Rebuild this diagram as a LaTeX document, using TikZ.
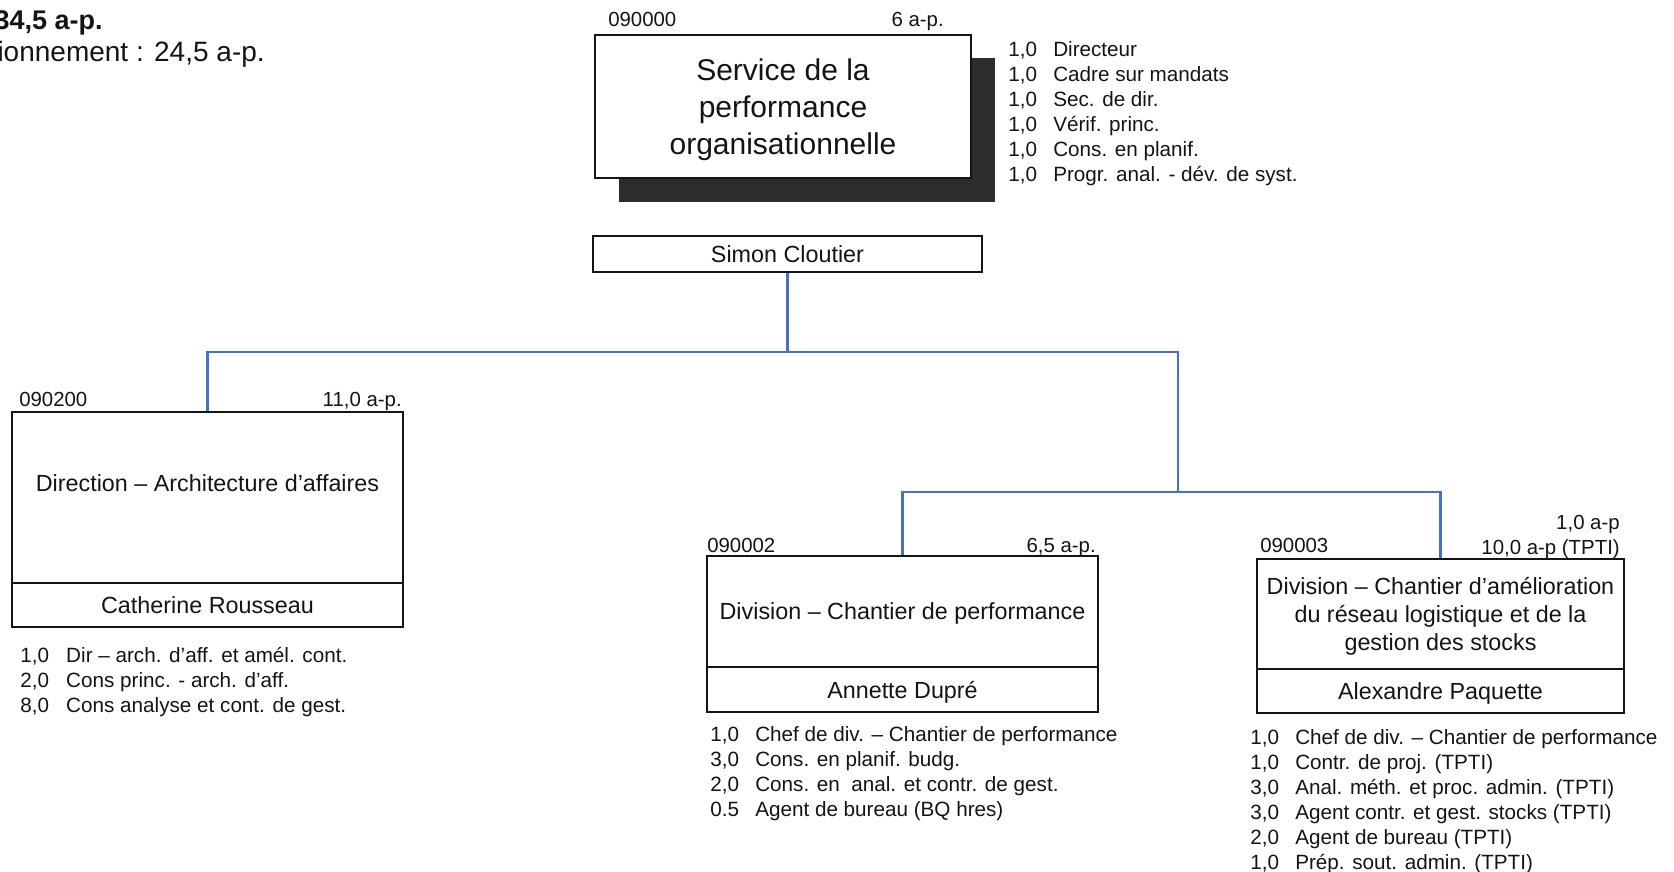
\documentclass[tikz,border=0pt]{standalone}
\usepackage{fontspec}
\setmainfont{Liberation Sans}
\definecolor{linkblue}{RGB}{70,114,196}
\definecolor{shade}{RGB}{45,45,45}
\definecolor{ink}{RGB}{20,20,20}
\begin{document}
\begin{tikzpicture}[x=0.75pt,y=-0.75pt,
  box/.style={draw=ink, line width=1.2pt, fill=white, inner sep=0pt, align=center, text=ink},
  boxfont/.style={font=\fontsize{17.5}{21.2}\selectfont, text depth=0pt},
  shadowbox/.style={fill=shade, draw=none, inner sep=0pt},
  smalltxt/.style={inner sep=0pt, text=ink, font=\fontsize{15.3}{18.75}\selectfont},
  boxtxt/.style={inner sep=0pt, text=ink, align=center, font=\fontsize{17.5}{21.2}\selectfont},
  listtxt/.style={inner sep=0pt, anchor=base west, text=ink, font=\fontsize{15.5}{18.75}\selectfont},
  conn/.style={draw=linkblue, line width=1.6pt},
]
\useasboundingbox (0,0) rectangle (1674,871);
\clip (0,0) rectangle (1674,871);

% top-left totals
\node[inner sep=0pt, anchor=base east, text=ink, font=\fontsize{20.25}{24}\selectfont\bfseries] (tot1) at (103,29) {34,5 a-p.};
\node[inner sep=0pt, anchor=base east, text=ink, font=\fontsize{21}{24}\selectfont] (tot2) at (265,61) {ionnement : 24,5 a-p.};

% main service
\node[shadowbox, minimum width=282pt, minimum height=108pt] (svcsh) at (807,130) {};
\node[box, minimum width=282pt, minimum height=107.25pt, text depth=0pt, font=\fontsize{22.5}{28}\selectfont] (svc) at (783,106.5) {Service de la\\performance\\organisationnelle};
\node[smalltxt, anchor=base west] (svcCode) at (608,26) {090000};
\node[smalltxt, anchor=base east] (svcCnt) at (944,26) {6 a-p.};
\node[listtxt] (svcList) at (1008,56) {\begin{tabular}[t]{@{}p{33.75pt}@{}l@{}}
1,0 & Directeur\\
1,0 & Cadre sur mandats\\
1,0 & Sec. de dir.\\
1,0 & Vérif. princ.\\
1,0 & Cons. en planif.\\
1,0 & Progr. anal. - dév. de syst.
\end{tabular}};

\node[box, boxfont, minimum width=291.75pt, minimum height=27pt] (simon) at (787.5,254) {Simon Cloutier};

% Direction 090200
\node[box, minimum width=293.25pt, minimum height=128.25pt] (dir) at (207.5,497.5) {};
\node[boxtxt] (dirT) at (207.5,483) {Direction – Architecture d’affaires};
\node[box, boxfont, minimum width=293.25pt, minimum height=33pt] (dirN) at (207.5,605) {Catherine Rousseau};
\node[smalltxt, anchor=base west] (dirCode) at (19,406) {090200};
\node[smalltxt, anchor=base east] (dirCnt) at (402,406) {11,0 a-p.};
\node[listtxt] (dirList) at (20,662) {\begin{tabular}[t]{@{}p{34.5pt}@{}l@{}}
1,0 & Dir – arch. d’aff. et amél. cont.\\
2,0 & Cons princ. - arch. d’aff.\\
8,0 & Cons analyse et cont. de gest.
\end{tabular}};

% Division 090002
\node[box, boxfont, minimum width=293.25pt, minimum height=83.25pt] (divA) at (902.5,611.5) {Division – Chantier de performance};
\node[box, boxfont, minimum width=293.25pt, minimum height=33.75pt] (divAN) at (902.5,689.5) {Annette Dupré};
\node[smalltxt, anchor=base west] (divACode) at (707,552) {090002};
\node[smalltxt, anchor=base east] (divACnt) at (1096,552) {6,5 a-p.};
\node[listtxt] (divAList) at (710,741) {\begin{tabular}[t]{@{}p{33.75pt}@{}l@{}}
1,0 & Chef de div. – Chantier de performance\\
3,0 & Cons. en planif. budg.\\
2,0 & Cons. en~ anal. et contr. de gest.\\
0.5 & Agent de bureau (BQ hres)
\end{tabular}};

% Division 090003
\node[box, boxfont, minimum width=275.25pt, minimum height=82.5pt] (divB) at (1440.5,614) {Division – Chantier d’amélioration\\du réseau logistique et de la\\gestion des stocks};
\node[box, boxfont, minimum width=275.25pt, minimum height=33pt] (divBN) at (1440.5,691) {Alexandre Paquette};
\node[smalltxt, anchor=base west] (divBCode) at (1260,552) {090003};
\node[smalltxt, anchor=base east] (divBCnt1) at (1620,529) {1,0 a-p};
\node[smalltxt, anchor=base east] (divBCnt2) at (1620,554) {10,0 a-p (TPTI)};
\node[listtxt] (divBList) at (1250,744) {\begin{tabular}[t]{@{}p{33.75pt}@{}l@{}}
1,0 & Chef de div. – Chantier de performance\\
1,0 & Contr. de proj. (TPTI)\\
3,0 & Anal. méth. et proc. admin. (TPTI)\\
3,0 & Agent contr. et gest. stocks (TPTI)\\
2,0 & Agent de bureau (TPTI)\\
1,0 & Prép. sout. admin. (TPTI)
\end{tabular}};

% connectors
\coordinate (hL) at (208,352);
\coordinate (hR) at (1178,352);
\coordinate (hC) at (1178,492);
\draw[conn] (simon.south) -- (simon.south |- hL);
\draw[conn] (dir.north) -- (dir.north |- hL) -- (hR) -- (hC);
\draw[conn] (divA.north) -- (divA.north |- hC) -- (divB.north |- hC) -- (divB.north);
\end{tikzpicture}
\end{document}
